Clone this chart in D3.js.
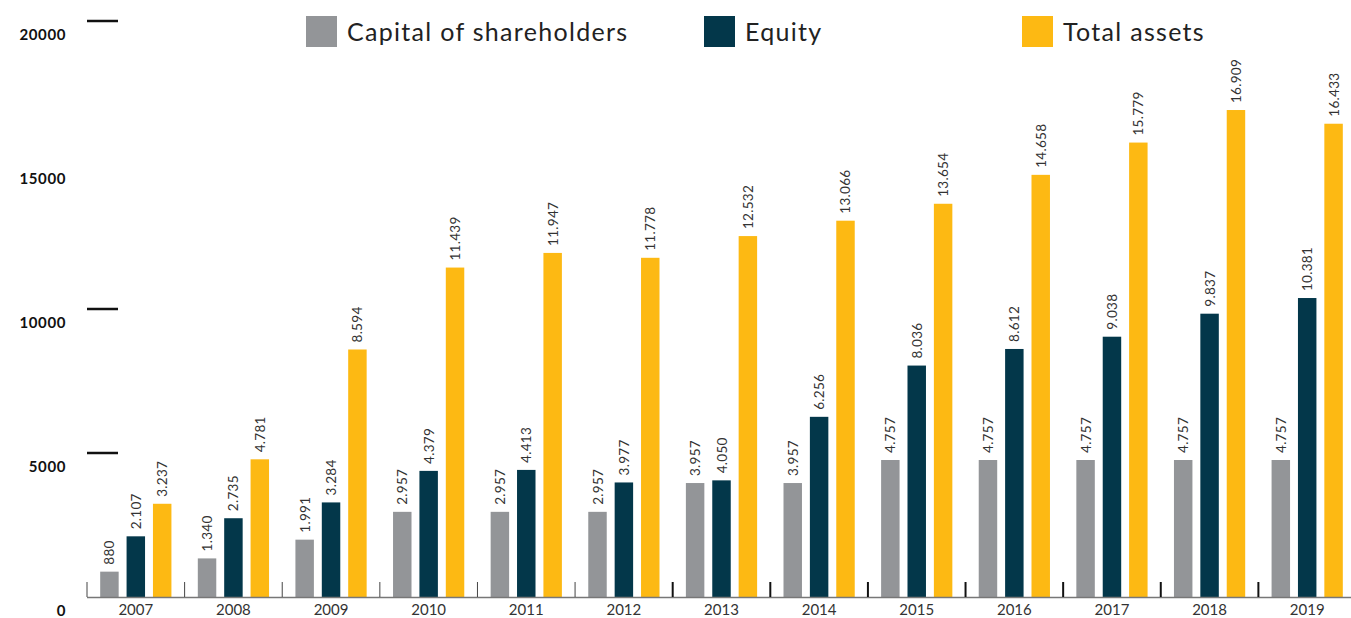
<!DOCTYPE html>
<html>
<head>
<meta charset="utf-8">
<script src="https://cdn.jsdelivr.net/npm/d3@7"></script>
<style>
  html, body { margin: 0; padding: 0; background: #fff; }
  svg { display: block; }
</style>
</head>
<body>
<svg id="chart" width="1351" height="618"></svg>
<script>
const years = ["2007","2008","2009","2010","2011","2012","2013","2014","2015","2016","2017","2018","2019"];
const capital = [880, 1340, 1991, 2957, 2957, 2957, 3957, 3957, 4757, 4757, 4757, 4757, 4757];
const equity = [2107, 2735, 3284, 4379, 4413, 3977, 4050, 6256, 8036, 8612, 9038, 9837, 10381];
const totalAssets = [3237, 4781, 8594, 11439, 11947, 11778, 12532, 13066, 13654, 14658, 15779, 16909, 16433];
const seriesNames = ["Capital of shareholders", "Equity", "Total assets"];
const seriesColors = ["#939598", "#03374a", "#fdb913"];
const yTickValues = [0, 5000, 10000, 15000, 20000];
const yDashValues = [5000, 10000, 20000];

const series = [capital, equity, totalAssets];
const svg = d3.select("#chart");
const font = "Lato, 'Noto Sans', sans-serif";

const baseline = 597;
const x = d3.scaleBand().domain(years).range([87, 1356]).paddingInner(0).paddingOuter(0);
const xs = d3.scaleBand().domain([0,1,2]).range([0, x.bandwidth()]).paddingInner(0.3).paddingOuter(0.5);
const y = d3.scaleLinear().domain([0, 20000]).range([baseline, 21]);

const fmt = v => d3.format(",")(v).replace(/,/g, ".");

// y labels (offset below the dashes as in the reference)
svg.append("g").selectAll("text").data(yTickValues).join("text")
  .attr("x", 66).attr("y", d => y(d) + 18.5)
  .attr("text-anchor", "end")
  .attr("font-family", font).attr("font-weight", 700).attr("font-size", 15)
  .attr("letter-spacing", 0.6)
  .attr("fill", "#111").text(d => d);

// dashes
svg.append("g").selectAll("line").data(yDashValues).join("line")
  .attr("x1", 87).attr("x2", 118)
  .attr("y1", d => y(d)).attr("y2", d => y(d))
  .attr("stroke", "#111").attr("stroke-width", 2.5);

// bars
const groups = svg.append("g").selectAll("g").data(years).join("g")
  .attr("transform", d => `translate(${x(d)},0)`);

series.forEach((s, si) => {
  groups.append("rect")
    .attr("x", xs(si)).attr("width", xs.bandwidth())
    .attr("y", (d, i) => y(s[i])).attr("height", (d, i) => baseline - y(s[i]))
    .attr("fill", seriesColors[si]);
  groups.append("text")
    .attr("transform", (d, i) => `translate(${xs(si) + xs.bandwidth()/2 + 5},${y(s[i]) - 7}) rotate(-90)`)
    .attr("font-family", font).attr("font-size", 13.5).attr("fill", "#333")
    .attr("letter-spacing", 0.3)
    .attr("text-anchor", "start")
    .text((d, i) => fmt(s[i]));
});

// x axis line
svg.append("line").attr("x1", 87).attr("x2", 1351).attr("y1", baseline + 0.5).attr("y2", baseline + 0.5)
  .attr("stroke", "#777").attr("stroke-width", 1.5);

// group separator ticks
svg.append("g").selectAll("line").data(years).join("line")
  .attr("x1", d => x(d)).attr("x2", d => x(d))
  .attr("y1", baseline - 15).attr("y2", baseline)
  .attr("stroke", (d, i) => i >= 6 ? "#111" : "#444")
  .attr("stroke-width", (d, i) => i >= 6 ? 2 : 1);

// x labels
svg.append("g").selectAll("text").data(years).join("text")
  .attr("x", d => x(d) + x.bandwidth()/2).attr("y", 615)
  .attr("text-anchor", "middle")
  .attr("font-family", font).attr("font-size", 15).attr("fill", "#333")
  .text(d => d);

// legend
const legendX = [306, 704, 1022];
const leg = svg.append("g").selectAll("g").data(seriesNames).join("g")
  .attr("transform", (d, i) => `translate(${legendX[i]},16)`);
leg.append("rect").attr("width", 31).attr("height", 31).attr("fill", (d, i) => seriesColors[i]);
leg.append("text").attr("x", 41).attr("y", 25)
  .attr("font-family", font).attr("font-size", 25).attr("fill", "#222")
  .attr("letter-spacing", 1.3)
  .text(d => d);
</script>
</body>
</html>
